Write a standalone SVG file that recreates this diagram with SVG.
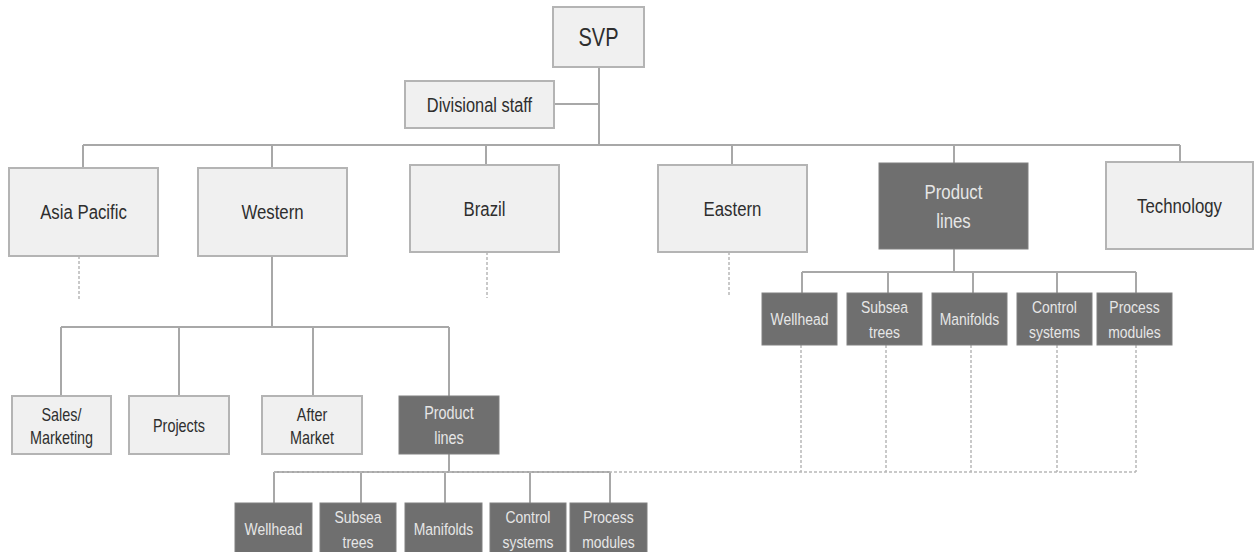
<svg xmlns="http://www.w3.org/2000/svg" width="1255" height="552" viewBox="0 0 1255 552">
<style>
.lt{fill:#f0f0f0;stroke:#b4b4b4;stroke-width:2}
.dk{fill:#6f6f6f;stroke:#808080;stroke-width:1}
text{font-family:"Liberation Sans",Arial,sans-serif;text-anchor:middle}
.t{font-size:21px;fill:#2e2e2e}
.tw{font-size:21px;fill:#e6e6e6}
.s{font-size:18px;fill:#2e2e2e}
.sw{font-size:17px;fill:#e6e6e6}
.c{stroke:#a8a8a8;stroke-width:2;fill:none}
.d{stroke:#b8b8b8;stroke-width:1.5;fill:none;stroke-dasharray:3 2}
</style>
<rect width="1255" height="552" fill="#fff"/>
<g id="connectors">
<path class="c" d="M599 67V145M554 104H599M83 145H1180M83 145V168M272 145V168M486 145V165M732 145V165M954 145V163M1180 145V162"/>
<path class="c" d="M272 256V327M61 327H449M61 327V396M179 327V396M313 327V396M449 327V396"/>
<path class="c" d="M954 249V272M802 272H1136M802 272V293M888 272V293M973 272V293M1057 272V293M1136 272V293"/>
<path class="c" d="M449 454V472M274 472H610M274 472V503M361 472V503M445 472V503M530 472V503M610 472V503"/>
<path class="d" d="M79 256V300M487 252V298M729 252V297"/>
<path class="d" d="M801 345V472M886 345V472M971 345V472M1057 345V472M1136 345V472M274 472H1136"/>
</g>
<g id="svp"><rect class="lt" x="553" y="7" width="91" height="60"/><text class="t" style="font-size:25px" transform="translate(598.5 46) scale(0.8 1)">SVP</text></g>
<g id="divisional-staff"><rect class="lt" x="405" y="81" width="149" height="47"/><text class="t" transform="translate(479.5 112) scale(0.78 1)">Divisional staff</text></g>
<g id="asia-pacific"><rect class="lt" x="9" y="168" width="149" height="88"/><text class="t" transform="translate(83.5 219) scale(0.8 1)">Asia Pacific</text></g>
<g id="western"><rect class="lt" x="198" y="168" width="149" height="88"/><text class="t" transform="translate(272.5 219) scale(0.8 1)">Western</text></g>
<g id="brazil"><rect class="lt" x="410" y="165" width="149" height="87"/><text class="t" transform="translate(484.5 216) scale(0.8 1)">Brazil</text></g>
<g id="eastern"><rect class="lt" x="658" y="165" width="149" height="87"/><text class="t" transform="translate(732.5 216) scale(0.8 1)">Eastern</text></g>
<g id="product-lines-top"><rect class="dk" x="879" y="163" width="149" height="86"/><text class="tw" transform="translate(953.5 199) scale(0.8 1)">Product</text><text class="tw" transform="translate(953.5 228) scale(0.8 1)">lines</text></g>
<g id="technology"><rect class="lt" x="1106" y="162" width="147" height="87"/><text class="t" transform="translate(1179.5 213) scale(0.8 1)">Technology</text></g>
<g id="r-wellhead"><rect class="dk" x="762" y="293" width="75" height="52"/><text class="sw" transform="translate(799.5 325) scale(0.82 1)">Wellhead</text></g>
<g id="r-subsea"><rect class="dk" x="847" y="293" width="75" height="52"/><text class="sw" transform="translate(884.5 313) scale(0.82 1)">Subsea</text><text class="sw" transform="translate(884.5 338) scale(0.82 1)">trees</text></g>
<g id="r-manifolds"><rect class="dk" x="932" y="293" width="75" height="52"/><text class="sw" transform="translate(969.5 325) scale(0.82 1)">Manifolds</text></g>
<g id="r-control"><rect class="dk" x="1017" y="293" width="75" height="52"/><text class="sw" transform="translate(1054.5 313) scale(0.82 1)">Control</text><text class="sw" transform="translate(1054.5 338) scale(0.82 1)">systems</text></g>
<g id="r-process"><rect class="dk" x="1097" y="293" width="75" height="52"/><text class="sw" transform="translate(1134.5 313) scale(0.82 1)">Process</text><text class="sw" transform="translate(1134.5 338) scale(0.82 1)">modules</text></g>
<g id="sales"><rect class="lt" x="12" y="396" width="99" height="58"/><text class="s" transform="translate(61.5 421) scale(0.8 1)">Sales/</text><text class="s" transform="translate(61.5 444) scale(0.8 1)">Marketing</text></g>
<g id="projects"><rect class="lt" x="129" y="396" width="100" height="58"/><text class="s" transform="translate(179 432) scale(0.8 1)">Projects</text></g>
<g id="after-market"><rect class="lt" x="262" y="396" width="100" height="58"/><text class="s" transform="translate(312 421) scale(0.8 1)">After</text><text class="s" transform="translate(312 444) scale(0.8 1)">Market</text></g>
<g id="product-lines-west"><rect class="dk" x="399" y="396" width="100" height="58"/><text class="sw" style="font-size:18px" transform="translate(449 419) scale(0.8 1)">Product</text><text class="sw" style="font-size:18px" transform="translate(449 444) scale(0.8 1)">lines</text></g>
<g id="b-wellhead"><rect class="dk" x="235" y="503" width="77" height="52"/><text class="sw" transform="translate(273.5 535) scale(0.82 1)">Wellhead</text></g>
<g id="b-subsea"><rect class="dk" x="320" y="503" width="76" height="52"/><text class="sw" transform="translate(358 523) scale(0.82 1)">Subsea</text><text class="sw" transform="translate(358 548) scale(0.82 1)">trees</text></g>
<g id="b-manifolds"><rect class="dk" x="405" y="503" width="77" height="52"/><text class="sw" transform="translate(443.5 535) scale(0.82 1)">Manifolds</text></g>
<g id="b-control"><rect class="dk" x="490" y="503" width="76" height="52"/><text class="sw" transform="translate(528 523) scale(0.82 1)">Control</text><text class="sw" transform="translate(528 548) scale(0.82 1)">systems</text></g>
<g id="b-process"><rect class="dk" x="570" y="503" width="77" height="52"/><text class="sw" transform="translate(608.5 523) scale(0.82 1)">Process</text><text class="sw" transform="translate(608.5 548) scale(0.82 1)">modules</text></g>
</svg>
